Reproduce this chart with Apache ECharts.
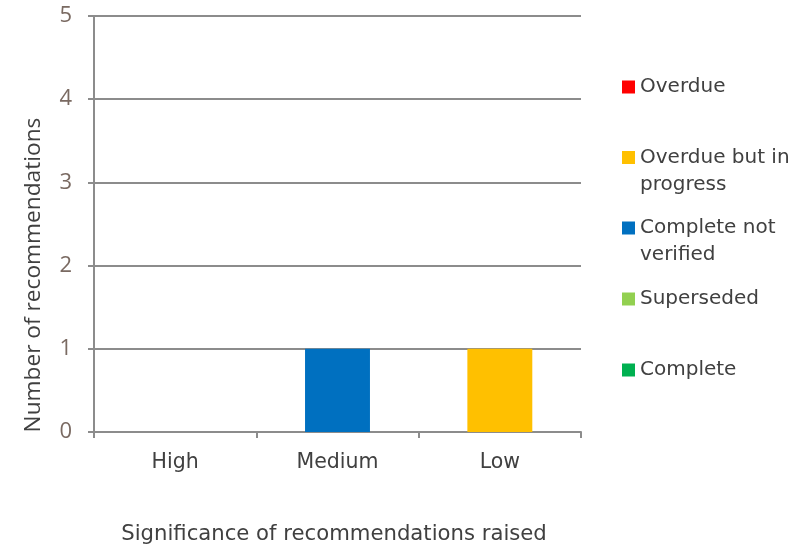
<!DOCTYPE html>
<html>
<head>
<meta charset="utf-8">
<script src="https://cdn.jsdelivr.net/npm/echarts@6/dist/echarts.min.js"></script>
<style>
  html, body { margin: 0; padding: 0; background: #ffffff; }
  #chart { width: 807px; height: 550px; }
</style>
</head>
<body>
<div id="chart"></div>
<script>
// Recommendations by significance, stacked by status
const categories = ['High', 'Medium', 'Low'];
const statusNames = ['Overdue', 'Overdue but in progress', 'Complete not verified', 'Superseded', 'Complete'];
const overdue = [0, 0, 0];
const overdueInProgress = [0, 0, 1];
const completeNotVerified = [0, 1, 0];
const superseded = [0, 0, 0];
const complete = [0, 0, 0];
const yTicks = [0, 1, 2, 3, 4, 5];

const seriesValues = [overdue, overdueInProgress, completeNotVerified, superseded, complete];
const colors = ['#ff0000', '#ffc000', '#0070c0', '#92d050', '#00b050'];
// Wrapped legend labels (lines listed separately)
const legendLines = {
  'Overdue': ['Overdue'],
  'Overdue but in progress': ['Overdue but in', 'progress'],
  'Complete not verified': ['Complete not', 'verified'],
  'Superseded': ['Superseded'],
  'Complete': ['Complete']
};
// vertical centre of each legend swatch
const swatchCentres = [87, 157.5, 228, 299, 370];

const axisGray = '#8c8c8c';
const tahomaLike = "'DejaVu Sans', Verdana, sans-serif";
const segoeLike = "'Open Sans', 'Noto Sans', sans-serif";
const LINE_H = 27;

const chart = echarts.init(document.getElementById('chart'), null, { renderer: 'canvas' });

// One legend block per status so each swatch can sit beside the first text line
const legends = statusNames.map((name, i) => {
  const lines = legendLines[name];
  const extra = lines.length - 1;
  // blank spacer lines on top keep the first text line level with the swatch
  const blockH = (2 * extra + 1) * LINE_H;
  return {
    show: true,
    left: 622,
    top: swatchCentres[i] - blockH / 2,
    orient: 'vertical',
    padding: 0,
    itemWidth: 13,
    itemHeight: 13,
    icon: 'rect',
    selectedMode: false,
    data: [name],
    formatter: (n) => {
      const ls = legendLines[n];
      const pad = [];
      for (let k = 1; k < ls.length; k++) pad.push('{pad| }');
      return pad.concat(ls.map((l) => '{t|' + l + '}')).join('\n');
    },
    textStyle: {
      rich: {
        t: { fontFamily: tahomaLike, fontSize: 20, color: '#404040', lineHeight: LINE_H, height: LINE_H },
        pad: { fontSize: 10, lineHeight: LINE_H, height: LINE_H }
      }
    }
  };
});

chart.setOption({
  animation: false,
  color: colors,
  legend: legends,
  grid: { left: 94, right: 226, top: 16, bottom: 117, containLabel: false },
  xAxis: {
    type: 'category',
    data: categories,
    boundaryGap: true,
    name: 'Significance of recommendations raised',
    nameLocation: 'middle',
    nameGap: 92,
    nameTextStyle: { fontFamily: tahomaLike, fontSize: 21.2, color: '#404040', padding: [0, 7, 0, 0] },
    axisLine: { show: true, lineStyle: { color: axisGray, width: 2 } },
    axisTick: { show: true, length: 6, alignWithLabel: false, lineStyle: { color: axisGray, width: 2 } },
    axisLabel: { margin: 20, fontFamily: tahomaLike, fontSize: 20.5, color: '#404040' }
  },
  yAxis: {
    type: 'value',
    min: yTicks[0],
    max: yTicks[yTicks.length - 1],
    interval: 1,
    name: 'Number of recommendations',
    nameLocation: 'middle',
    nameRotate: 90,
    nameGap: 49,
    nameTextStyle: { fontFamily: segoeLike, fontSize: 22.7, color: '#404040', padding: [0, 102, 0, 0] },
    axisLine: { show: true, lineStyle: { color: axisGray, width: 2 } },
    axisTick: { show: true, inside: false, length: 6, lineStyle: { color: axisGray, width: 2 } },
    axisLabel: { margin: 22, fontFamily: segoeLike, fontSize: 22, color: '#7a6a62' },
    splitLine: { show: true, lineStyle: { color: axisGray, width: 2 } }
  },
  series: statusNames.map((name, i) => ({
    name: name,
    type: 'bar',
    stack: 'status',
    barWidth: '40%',
    data: seriesValues[i],
    itemStyle: { color: colors[i] }
  }))
});
</script>
</body>
</html>
